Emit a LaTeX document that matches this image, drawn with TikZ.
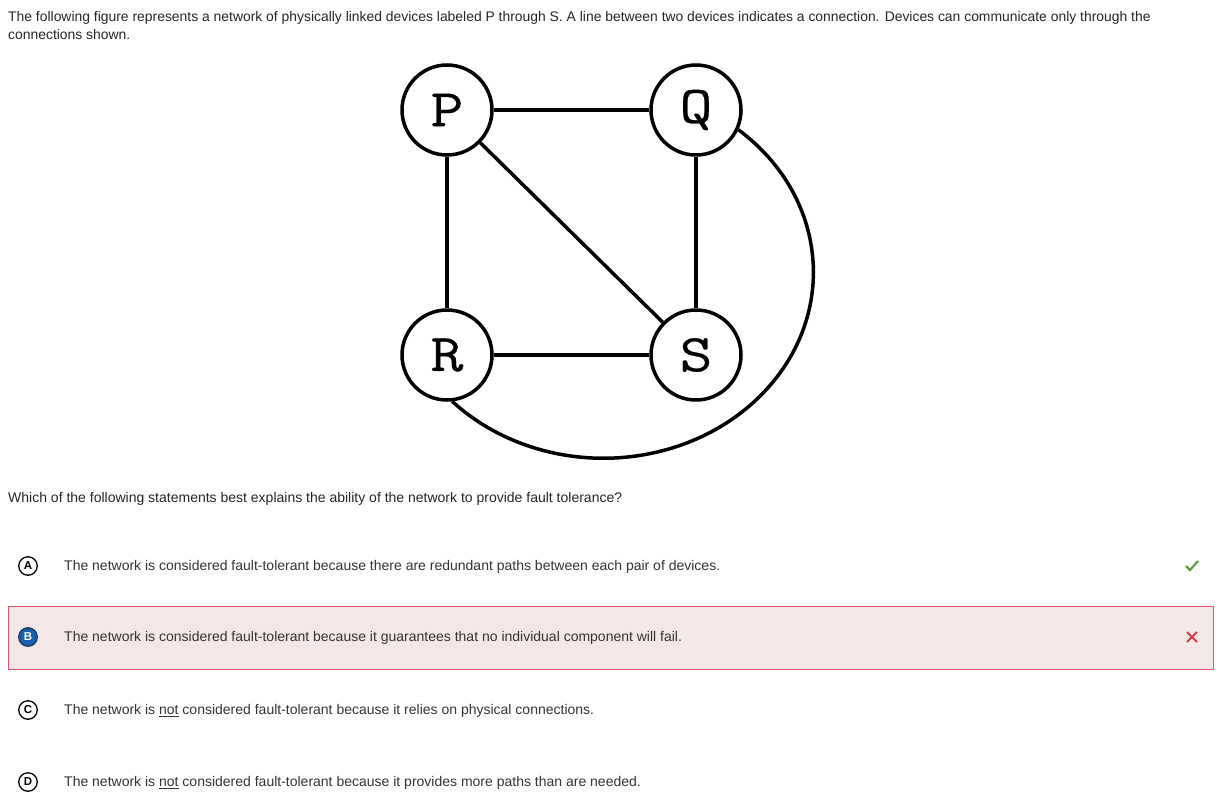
\documentclass[tikz,border=0pt]{standalone}
\usepackage{fontspec}
\setmainfont{Liberation Sans}
\newfontfamily\devfont{Latin Modern Mono}[FakeStretch=1.2, FakeBold=0.5]
\usetikzlibrary{positioning}

\definecolor{txtgray}{HTML}{333333}
\definecolor{boxfill}{HTML}{F3E7E7}
\definecolor{boxline}{HTML}{E05565}
\definecolor{choiceblue}{HTML}{1B5FAA}
\definecolor{okgreen}{HTML}{5AA03C}
\definecolor{badred}{HTML}{D0404A}

\begin{document}
\begin{tikzpicture}[x=1pt,y=-1pt,
    device/.style={circle, draw, line width=3.5pt, minimum size=90pt, inner sep=0pt,
      font=\devfont\fontsize{53}{53}\selectfont},
    link/.style={line width=3.5pt},
    prose/.style={anchor=base west, inner sep=0pt, font=\fontsize{13.9}{15}\selectfont, text=black!85},
    choice/.style={circle, draw, line width=1.3pt, minimum size=18.5pt, inner sep=0pt,
      font=\bfseries\fontsize{11.5}{11.5}\selectfont},
    answer/.style={anchor=base west, inner sep=0pt, font=\fontsize{14}{15}\selectfont, text=txtgray}]

  \useasboundingbox[fill=white] (0,0) rectangle (1217,803);

  % question text
  \node[prose] (intro1) at (8,21) {The following figure represents a network of physically linked devices labeled P through S. A line between two devices indicates a connection. Devices can communicate only through the};
  \node[prose] (intro2) at (8,39) {connections shown.};

  % devices
  \node[device] (P) at (447,110) {P};
  \node[device] (Q) at (696,110) {Q};
  \node[device] (R) at (447,355) {R};
  \node[device] (S) at (696,355) {S};

  % connections
  \draw[link] (P) -- (Q);
  \draw[link] (P) -- (R);
  \draw[link] (Q) -- (S);
  \draw[link] (R) -- (S);
  \draw[link] (P) -- (S);
  % long way round from Q to R
  \draw[link] (Q.-25) arc[start angle=-50, end angle=136, x radius=210, y radius=186];

  \node[prose, font=\fontsize{14}{15}\selectfont] (ask) at (8,502) {Which of the following statements best explains the ability of the network to provide fault tolerance?};

  % highlighted wrong answer
  \draw[boxline, fill=boxfill, line width=0.8pt] (8,606) rectangle (1213,669);

  % choices
  \node[choice] (A) at (28,566) {A};
  \node[choice, fill=choiceblue, draw=choiceblue!60!black, text=white] (B) at (28,637) {B};
  \node[choice] (C) at (28,710) {C};
  \node[choice] (D) at (28,782) {D};

  \node[answer] (ansA) at (64,570.5) {The network is considered fault-tolerant because there are redundant paths between each pair of devices.};
  \node[answer] (ansB) at (64,641.5) {The network is considered fault-tolerant because it guarantees that no individual component will fail.};
  \node[answer] (ansC) at (64,714.5) {The network is \underline{not} considered fault-tolerant because it relies on physical connections.};
  \node[answer] (ansD) at (64,786.5) {The network is \underline{not} considered fault-tolerant because it provides more paths than are needed.};

  % marks
  \draw[okgreen, line width=2.2pt] (1186,566) -- (1190,570) -- (1198,561);
  \draw[badred, line width=2pt] (1187,632) -- (1197,642) (1197,632) -- (1187,642);

\end{tikzpicture}
\end{document}
